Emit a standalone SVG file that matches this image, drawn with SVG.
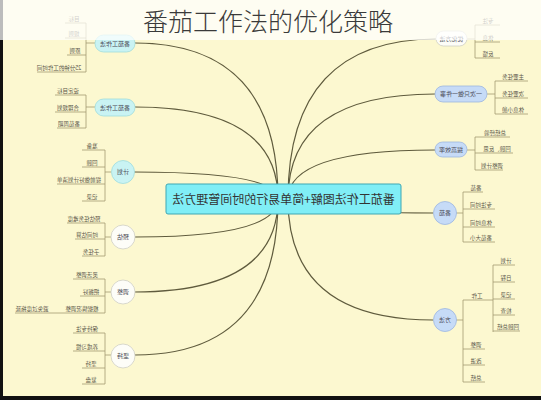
<svg xmlns="http://www.w3.org/2000/svg" width="541" height="400" viewBox="0 0 541 400">
<style>
text{font-family:"Noto Sans CJK SC","Noto Sans",sans-serif}
.c{fill:none;stroke:#5f5b3d;stroke-width:1.2}
.b{fill:none;stroke:#a39a72;stroke-width:0.8}
.t{font-size:5.5px;fill:#5a5648;text-anchor:middle}
.n{font-size:6px;fill:#4a4a55;text-anchor:middle}
.cy{fill:#c9f3f3;stroke:#9fdcdc;stroke-width:0.8}
.bl{fill:#c6dbf7;stroke:#9db6de;stroke-width:0.8}
.wh{fill:#fdfdf8;stroke:#cfcfc4;stroke-width:0.8}
</style>
<rect width="541" height="400" fill="#fcf8d0"/>
<g id="connectors">
<path class="c" d="M278,199 Q278,43 135,43"/>
<path class="c" d="M278,199 Q278,107 135,107"/>
<path class="c" d="M278,199 Q278,172 134,172"/>
<path class="c" d="M278,199 Q278,237 135,237"/>
<path class="c" d="M278,199 Q278,292 134,292"/>
<path class="c" d="M278,199 Q278,355 135,355"/>
<path class="c" d="M288,199 Q288,39 436,39"/>
<path class="c" d="M288,199 Q288,94 435,94"/>
<path class="c" d="M288,199 Q288,150 435,150"/>
<path class="c" d="M288,199 Q288,213 433,213"/>
<path class="c" d="M288,199 Q288,320 433,320"/>
<path class="b" d="M95,43H86M86,23V72M65,23H86M65,38H86M67,55H86M37,72H86"/>
<path class="b" d="M95,107H86M86,95V128M55,95H86M55,112H86M57,128H86"/>
<path class="b" d="M111,172H105M105,150V201M82,150H105M82,167H105M57,184H105M82,201H105"/>
<path class="b" d="M111,237H105M105,223V256M67,223H105M75,239H105M82,256H105"/>
<path class="b" d="M111,292H105M105,279V313M73,279H105M80,296H105M15,313H105"/>
<path class="b" d="M111,355H105M105,333V384M73,333H105M73,351H105M82,368H105M82,384H105"/>
<path class="b" d="M467,39H475M475,25V58M475,25H500M475,42H500M475,58H500"/>
<path class="b" d="M487,94H495M495,81V114M495,81H528M495,98H528M495,114H528"/>
<path class="b" d="M467,150H475M475,137V170M475,137H510M475,153H513M475,170H503"/>
<path class="b" d="M456,213H463M463,192V242M463,192H483M463,209H495M463,227H495M463,242H495"/>
<path class="b" d="M456,320H463M463,300V382M463,300H493M463,349H485M463,365H485M463,382H485"/>
<path class="b" d="M493,265V332M493,265H515M493,282H515M493,299H515M493,315H515M493,331H520"/>
</g>
<g id="center">
<rect x="166" y="184" width="235" height="30" rx="2" fill="#80eef6" stroke="#3fa7b3" stroke-width="1"/>
<text transform="translate(283.5,204) scale(-1,1)" text-anchor="middle" font-size="12" fill="#333">番茄工作法图解+简单易行的时间管理方法</text>
</g>
<g id="node-l1">
<rect class="cy" x="95" y="35" width="40" height="17" rx="8.5"/>
<text class="n" transform="translate(115,45.5) scale(-1,1)">番茄工作法</text>
<text class="t" transform="translate(74,20.5) scale(-1,1)">目标</text>
<text class="t" transform="translate(74,35.5) scale(-1,1)">规则</text>
<text class="t" transform="translate(75,52.5) scale(-1,1)">原则</text>
<text class="t" transform="translate(59,69.5) scale(-1,1)">25分钟的工作时间</text>
</g>
<g id="node-l2">
<rect class="cy" x="95" y="99" width="40" height="17" rx="8.5"/>
<text class="n" transform="translate(115,109.5) scale(-1,1)">番茄工作法</text>
<text class="t" transform="translate(68,92.5) scale(-1,1)">设定目标</text>
<text class="t" transform="translate(68,109.5) scale(-1,1)">合理规划</text>
<text class="t" transform="translate(69,125.5) scale(-1,1)">番茄周期</text>
</g>
<g id="node-l3">
<circle class="cy" cx="123" cy="172" r="11.5"/>
<text class="n" transform="translate(123,174) scale(-1,1)">计划</text>
<text class="t" transform="translate(92,147.5) scale(-1,1)">准备</text>
<text class="t" transform="translate(92,164.5) scale(-1,1)">回顾</text>
<text class="t" transform="translate(79,181.5) scale(-1,1)">提前做好计划清单</text>
<text class="t" transform="translate(92,198.5) scale(-1,1)">记录</text>
</g>
<g id="node-l4">
<circle class="wh" cx="123" cy="237" r="12"/>
<text class="n" transform="translate(123,239) scale(-1,1)">预估</text>
<text class="t" transform="translate(84,220.5) scale(-1,1)">预估任务难度</text>
<text class="t" transform="translate(87,236.5) scale(-1,1)">时间估算</text>
<text class="t" transform="translate(91,253.5) scale(-1,1)">子任务</text>
</g>
<g id="node-l5">
<circle class="wh" cx="123" cy="292" r="12"/>
<text class="n" transform="translate(123,294) scale(-1,1)">调整</text>
<text class="t" transform="translate(87,276.5) scale(-1,1)">灵活调整</text>
<text class="t" transform="translate(91,293.5) scale(-1,1)">把握好</text>
<text class="t" transform="translate(82,310.5) scale(-1,1)">根据情况调整</text>
<text class="t" transform="translate(32,310.5) scale(-1,1)">避免过度拖延</text>
</g>
<g id="node-l6">
<circle class="wh" cx="123" cy="356" r="12"/>
<text class="n" transform="translate(123,358) scale(-1,1)">坚持</text>
<text class="t" transform="translate(87,330.5) scale(-1,1)">保持专注</text>
<text class="t" transform="translate(87,348.5) scale(-1,1)">养成习惯</text>
<text class="t" transform="translate(91,365.5) scale(-1,1)">坚持</text>
<text class="t" transform="translate(91,381.5) scale(-1,1)">复盘</text>
</g>
<g id="node-r1">
<rect class="wh" x="436" y="31" width="31" height="15" rx="7.5"/>
<text class="n" transform="translate(451.5,41) scale(-1,1)">优化方法</text>
<text class="t" transform="translate(488,22.5) scale(-1,1)">专注</text>
<text class="t" transform="translate(488,39.5) scale(-1,1)">休息</text>
<text class="t" transform="translate(488,55.5) scale(-1,1)">反馈</text>
</g>
<g id="node-r2">
<rect class="bl" x="435" y="86" width="52" height="16" rx="8"/>
<text class="n" transform="translate(461,96) scale(-1,1)">一次只做一件事</text>
<text class="t" transform="translate(513,78.5) scale(-1,1)">主要任务</text>
<text class="t" transform="translate(513,95.5) scale(-1,1)">次要任务</text>
<text class="t" transform="translate(513,111.5) scale(-1,1)">休息小憩</text>
</g>
<g id="node-r3">
<rect class="bl" x="435" y="142" width="32" height="15" rx="7.5"/>
<text class="n" transform="translate(451,152) scale(-1,1)">提高效率</text>
<text class="t" transform="translate(495,134.5) scale(-1,1)">总结经验</text>
<text class="t" transform="translate(497,150.5) scale(-1,1)">回顾、反思</text>
<text class="t" transform="translate(492,167.5) scale(-1,1)">调整计划</text>
</g>
<g id="node-r4">
<circle class="bl" cx="445" cy="213" r="11.5"/>
<text class="n" transform="translate(445,215) scale(-1,1)">番茄</text>
<text class="t" transform="translate(476,189.5) scale(-1,1)">番茄</text>
<text class="t" transform="translate(481,206.5) scale(-1,1)">专注时间</text>
<text class="t" transform="translate(481,224.5) scale(-1,1)">休息时间</text>
<text class="t" transform="translate(481,239.5) scale(-1,1)">番茄大小</text>
</g>
<g id="node-r5">
<circle class="bl" cx="445" cy="320" r="11.5"/>
<text class="n" transform="translate(445,322) scale(-1,1)">方法</text>
<text class="t" transform="translate(477,297.5) scale(-1,1)">工作</text>
<text class="t" transform="translate(506,262.5) scale(-1,1)">计划</text>
<text class="t" transform="translate(506,279.5) scale(-1,1)">日程</text>
<text class="t" transform="translate(506,296.5) scale(-1,1)">记录</text>
<text class="t" transform="translate(506,312.5) scale(-1,1)">检查</text>
<text class="t" transform="translate(508,328.5) scale(-1,1)">回顾总结</text>
<text class="t" transform="translate(476,346.5) scale(-1,1)">调整</text>
<text class="t" transform="translate(476,362.5) scale(-1,1)">改进</text>
<text class="t" transform="translate(476,379.5) scale(-1,1)">总结</text>
</g>
<rect x="0" y="0" width="3" height="400" fill="#111"/>
<rect x="0" y="396" width="541" height="4" fill="#111"/>
<rect x="0" y="0" width="541" height="40" fill="#ffffff" fill-opacity="0.72"/>
<text x="143" y="31" font-size="25" font-weight="300" fill="#3a3a3a">番茄工作法的优化策略</text>
</svg>
